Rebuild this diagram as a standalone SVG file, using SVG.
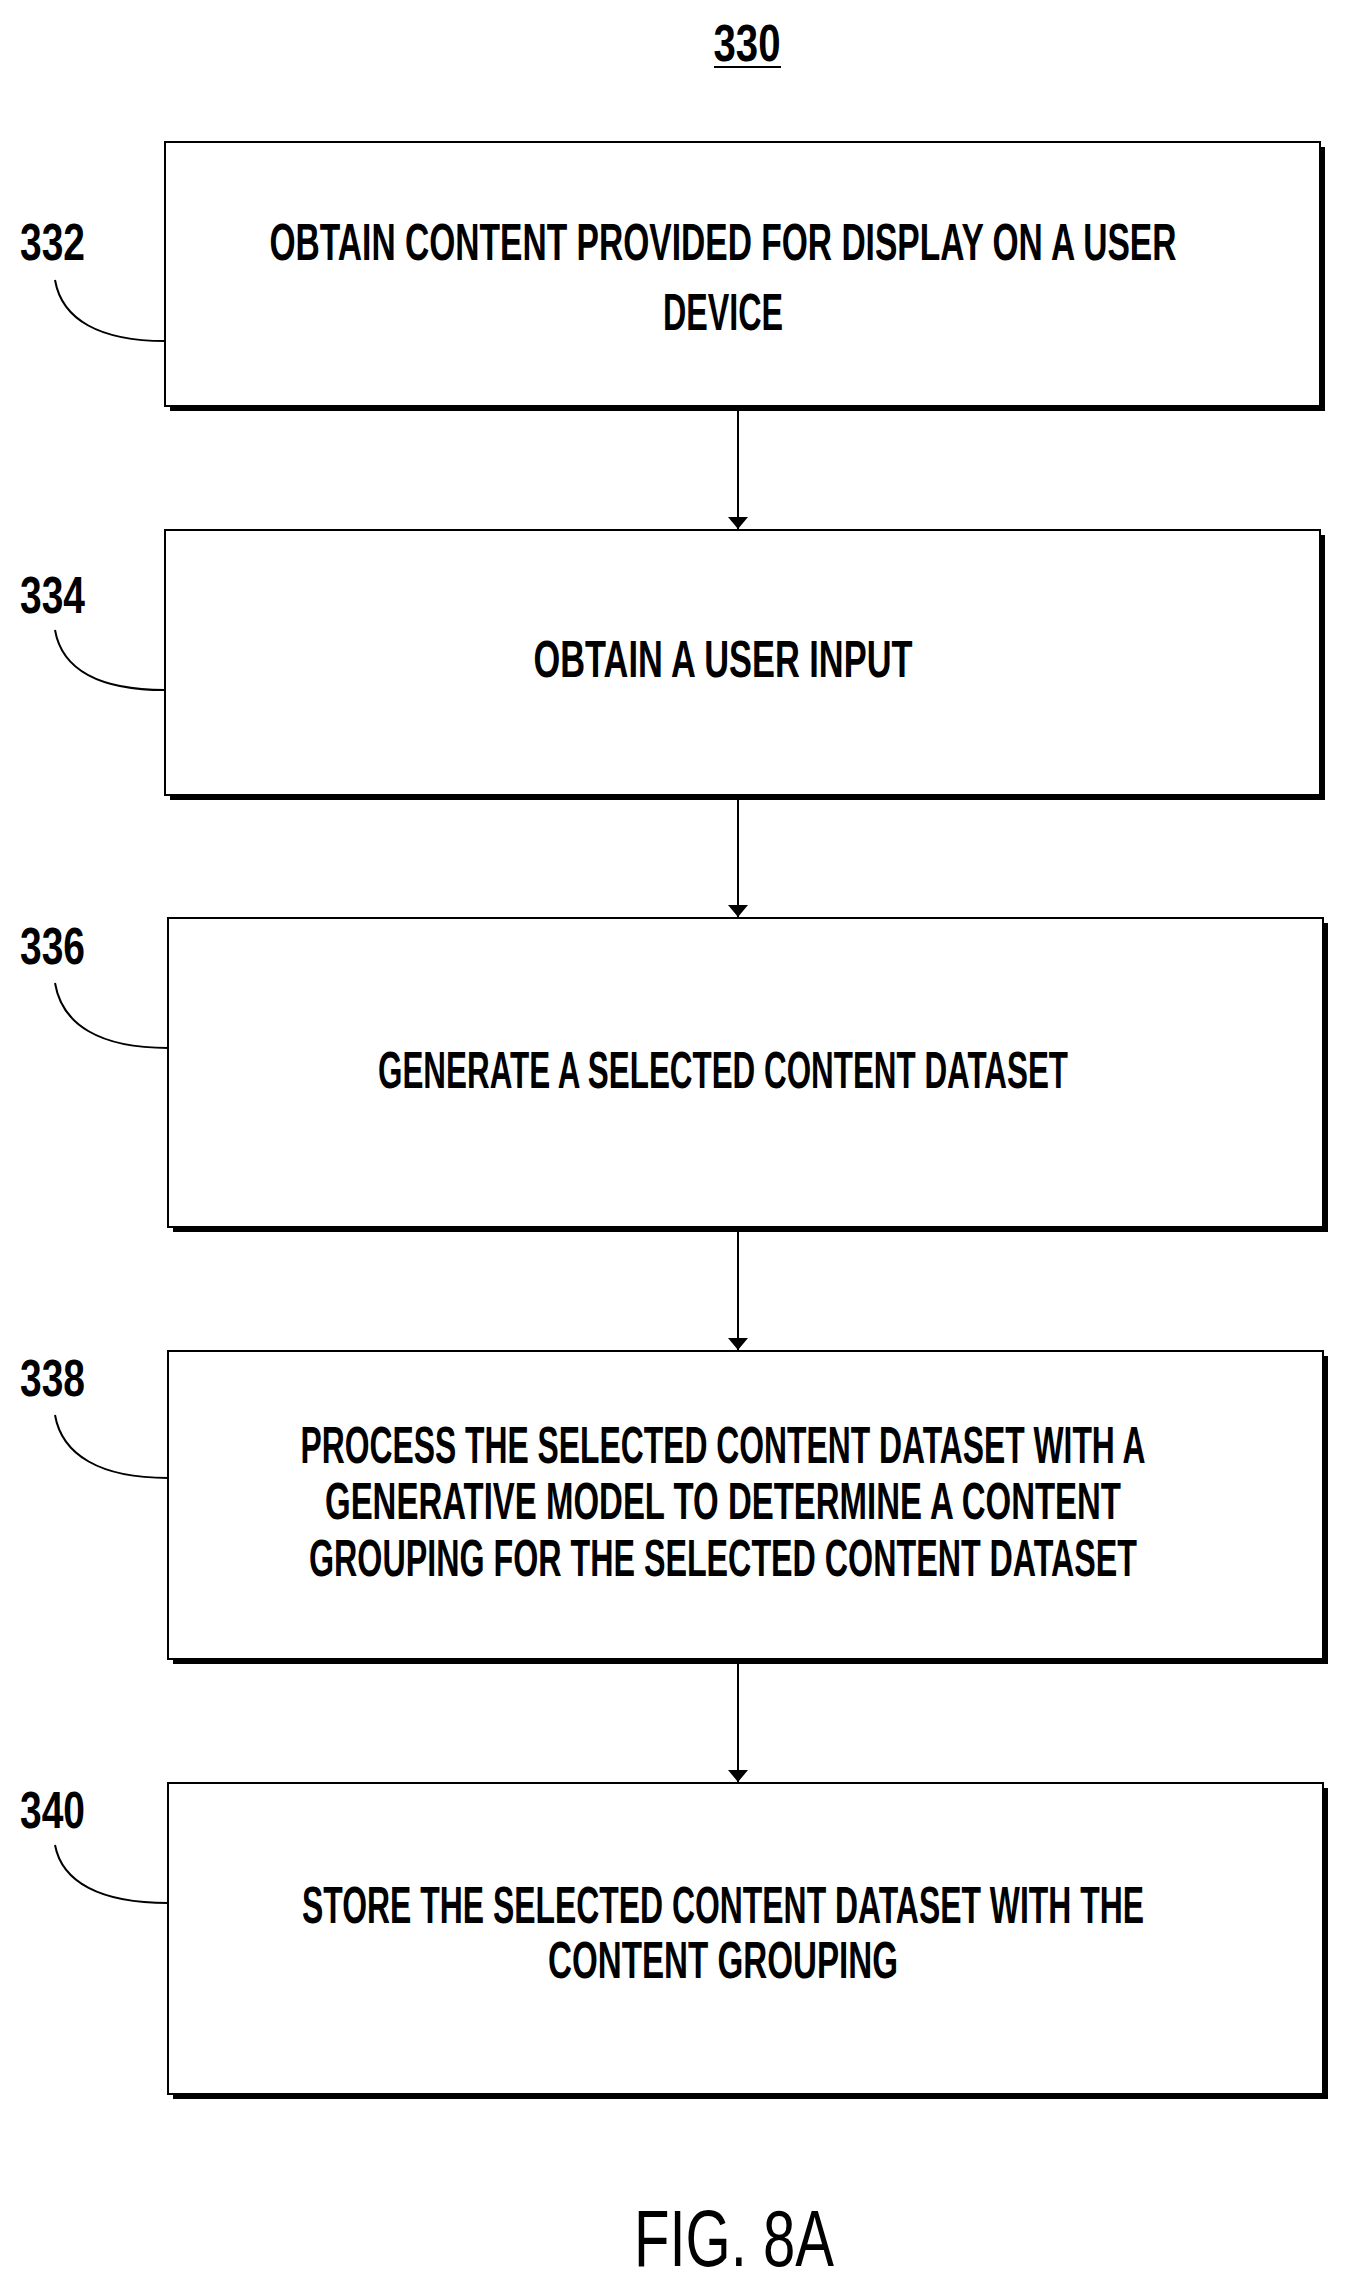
<svg xmlns="http://www.w3.org/2000/svg" width="1356" height="2280" viewBox="0 0 1356 2280">
<defs>
<marker id="ah" markerWidth="12" markerHeight="20" refX="12" refY="10" orient="auto" markerUnits="userSpaceOnUse">
<path d="M0,0 L12,10 L0,20 Z" fill="#000"/>
</marker>
</defs>
<style>
.box{fill:#fff;stroke:#000;stroke-width:2}
.sh{fill:#000}
.t{font-family:"Liberation Sans",Arial,sans-serif;font-size:52px;font-weight:bold;text-anchor:middle}
.n{font-family:"Liberation Sans",Arial,sans-serif;font-size:52px;font-weight:bold}
.ld{fill:none;stroke:#000;stroke-width:2}
.c{stroke:#000;stroke-width:2;fill:none;marker-end:url(#ah)}
</style>
<rect width="1356" height="2280" fill="#fff"/>
<text x="747" y="61" class="t" textLength="67" lengthAdjust="spacingAndGlyphs">330</text>
<line x1="714" y1="67" x2="781" y2="67" stroke="#000" stroke-width="2"/>

<g id="n332">
<rect x="170" y="147" width="1155" height="264" class="sh"/>
<rect x="165" y="142" width="1155" height="264" class="box"/>
<text x="723" y="260" class="t" textLength="907" lengthAdjust="spacingAndGlyphs">OBTAIN CONTENT PROVIDED FOR DISPLAY ON A USER</text>
<text x="723" y="330" class="t" textLength="120" lengthAdjust="spacingAndGlyphs">DEVICE</text>
<text x="20" y="260" class="n" textLength="65" lengthAdjust="spacingAndGlyphs">332</text>
<path d="M55,280 C62,320 100,341 165,341" class="ld"/>
</g>
<g id="n334">
<rect x="170" y="535" width="1155" height="265" class="sh"/>
<rect x="165" y="530" width="1155" height="265" class="box"/>
<text x="723" y="677" class="t" textLength="379" lengthAdjust="spacingAndGlyphs">OBTAIN A USER INPUT</text>
<text x="20" y="613" class="n" textLength="65" lengthAdjust="spacingAndGlyphs">334</text>
<path d="M55,630 C62,670 100,690 165,690" class="ld"/>
</g>
<g id="n336">
<rect x="173" y="923" width="1155" height="309" class="sh"/>
<rect x="168" y="918" width="1155" height="309" class="box"/>
<text x="723" y="1088" class="t" textLength="690" lengthAdjust="spacingAndGlyphs">GENERATE A SELECTED CONTENT DATASET</text>
<text x="20" y="964" class="n" textLength="65" lengthAdjust="spacingAndGlyphs">336</text>
<path d="M55,983 C62,1025 100,1048 168,1048" class="ld"/>
</g>
<g id="n338">
<rect x="173" y="1356" width="1155" height="308" class="sh"/>
<rect x="168" y="1351" width="1155" height="308" class="box"/>
<text x="723" y="1463" class="t" textLength="845" lengthAdjust="spacingAndGlyphs">PROCESS THE SELECTED CONTENT DATASET WITH A</text>
<text x="723" y="1519" class="t" textLength="796" lengthAdjust="spacingAndGlyphs">GENERATIVE MODEL TO DETERMINE A CONTENT</text>
<text x="723" y="1576" class="t" textLength="828" lengthAdjust="spacingAndGlyphs">GROUPING FOR THE SELECTED CONTENT DATASET</text>
<text x="20" y="1396" class="n" textLength="65" lengthAdjust="spacingAndGlyphs">338</text>
<path d="M55,1415 C62,1455 100,1478 168,1478" class="ld"/>
</g>
<g id="n340">
<rect x="173" y="1788" width="1155" height="311" class="sh"/>
<rect x="168" y="1783" width="1155" height="311" class="box"/>
<text x="723" y="1923" class="t" textLength="842" lengthAdjust="spacingAndGlyphs">STORE THE SELECTED CONTENT DATASET WITH THE</text>
<text x="723" y="1978" class="t" textLength="350" lengthAdjust="spacingAndGlyphs">CONTENT GROUPING</text>
<text x="20" y="1828" class="n" textLength="65" lengthAdjust="spacingAndGlyphs">340</text>
<path d="M55,1845 C62,1882 100,1903 168,1903" class="ld"/>
</g>

<g id="connectors">
<line x1="738" y1="411" x2="738" y2="529" class="c"/>
<line x1="738" y1="800" x2="738" y2="917" class="c"/>
<line x1="738" y1="1232" x2="738" y2="1350" class="c"/>
<line x1="738" y1="1664" x2="738" y2="1782" class="c"/>
</g>

<text x="734" y="2266" class="t" style="font-size:80px;font-weight:normal" textLength="200" lengthAdjust="spacingAndGlyphs">FIG. 8A</text>
</svg>
